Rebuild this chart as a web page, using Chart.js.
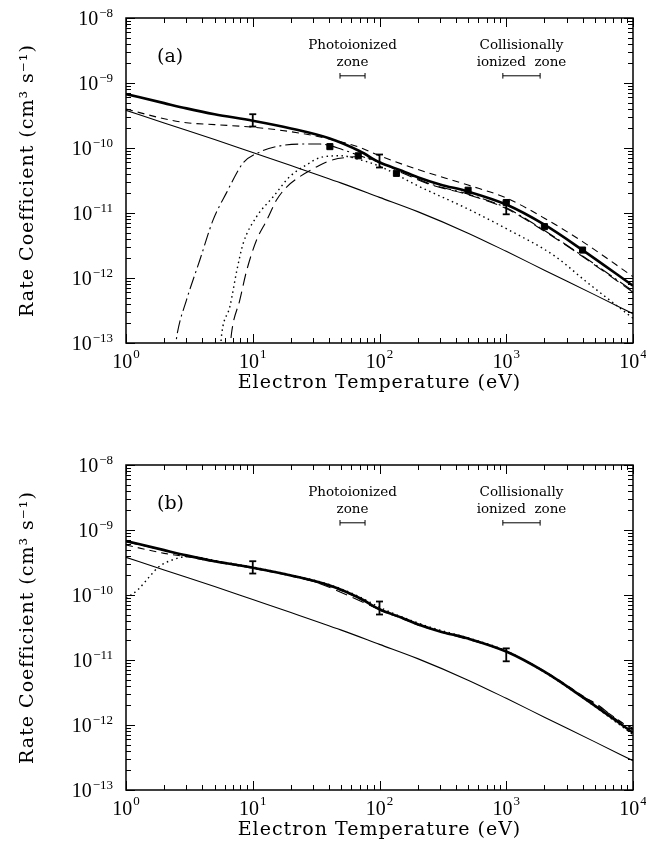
<!DOCTYPE html>
<html>
<head>
<meta charset="utf-8">
<script src="https://cdn.jsdelivr.net/npm/chart.js@4.4.1/dist/chart.umd.min.js"></script>
<style>
  html, body { margin: 0; padding: 0; background: #fff; }
  #wrap { position: relative; width: 646px; height: 845px; }
  canvas { position: absolute; left: 0; }
  #chart-a { top: 0; }
  #chart-b { top: 423px; }
</style>
</head>
<body>
<div id="wrap">
  <canvas id="chart-a" width="646" height="423"></canvas>
  <canvas id="chart-b" width="646" height="422"></canvas>
</div>
<script>
// axes
const xTickValues = [1, 10, 100, 1000, 10000];
const xTickExp = ["0", "1", "2", "3", "4"];
const yTickValues = [1e-8, 1e-9, 1e-10, 1e-11, 1e-12, 1e-13];
const yTickExp = ["\u22128", "\u22129", "\u221210", "\u221211", "\u221212", "\u221213"];

// total (thick solid), same in both panels
const totalT = [1, 2, 3, 5, 10, 20, 40, 70, 100, 150, 200, 300, 500, 1000, 2000, 4000, 10000];
const totalR = [6.76e-10, 4.90e-10, 4.07e-10, 3.31e-10, 2.63e-10, 2.00e-10, 1.41e-10, 8.91e-11, 6.03e-11, 4.47e-11, 3.55e-11, 2.75e-11, 2.14e-11, 1.35e-11, 6.61e-12, 2.69e-12, 7.59e-13];

// thin solid, same in both panels
const rrT = [1, 2, 5, 10, 20, 50, 100, 200, 500, 1000, 2000, 5000, 10000];
const rrR = [3.80e-10, 2.42e-10, 1.35e-10, 8.51e-11, 5.37e-11, 2.88e-11, 1.74e-11, 1.05e-11, 4.90e-12, 2.57e-12, 1.32e-12, 5.50e-13, 2.82e-13];

// panel (a)
const dashAT = [1, 2, 3, 5, 10, 20, 40, 70, 100, 200, 500, 1000, 2000, 4000, 10000];
const dashAR = [3.98e-10, 2.82e-10, 2.45e-10, 2.29e-10, 2.09e-10, 1.78e-10, 1.38e-10, 1.02e-10, 7.59e-11, 4.68e-11, 2.69e-11, 1.70e-11, 8.32e-12, 3.63e-12, 1.05e-12];

const dashDotAT = [2.40, 2.54, 3.0, 3.83, 4.86, 6.2, 8.4, 11.4, 16, 25, 34, 52, 70, 128, 250, 500, 1000, 2000, 4000, 10000];
const dashDotAR = [6.31e-14, 1.41e-13, 4.57e-13, 1.91e-12, 7.76e-12, 2.04e-11, 5.89e-11, 8.71e-11, 1.07e-10, 1.15e-10, 1.15e-10, 9.33e-11, 7.59e-11, 5.01e-11, 2.82e-11, 1.95e-11, 1.20e-11, 5.37e-12, 2.19e-12, 6.31e-13];

const longDashAT = [6.55, 6.8, 7.9, 8.97, 10.7, 12.9, 15.4, 18.5, 23.5, 32, 43, 58, 70, 100, 150, 250, 500, 1000, 2000, 4000, 10000];
const longDashAR = [6.31e-14, 1.41e-13, 4.57e-13, 1.32e-12, 3.80e-12, 7.76e-12, 1.58e-11, 2.51e-11, 3.63e-11, 5.13e-11, 6.61e-11, 7.24e-11, 7.41e-11, 6.03e-11, 4.17e-11, 2.75e-11, 1.91e-11, 1.17e-11, 5.25e-12, 2.14e-12, 6.03e-13];

const dotAT = [5.5, 5.7, 6.6, 7.5, 8.4, 10.7, 14.5, 19.6, 27, 35, 50, 70, 100, 200, 500, 1000, 2400, 4300, 10000];
const dotAR = [6.31e-14, 1.41e-13, 3.63e-13, 1.32e-12, 3.39e-12, 8.71e-12, 1.78e-11, 3.63e-11, 5.62e-11, 7.24e-11, 7.59e-11, 6.61e-11, 5.25e-11, 2.63e-11, 1.15e-11, 5.75e-12, 2.19e-12, 8.71e-13, 2.40e-13];

const squareT = [40.6, 68, 136, 500, 1000, 2000, 4000];
const squareR = [1.05e-10, 7.59e-11, 4.07e-11, 2.24e-11, 1.45e-11, 6.17e-12, 2.69e-12];

// panel (b)
const dashBT = [1, 2, 3, 5, 10, 20, 40, 70, 100, 150, 200, 300, 500, 1000, 2000, 4000, 6000, 10000];
const dashBR = [5.89e-10, 4.37e-10, 3.89e-10, 3.24e-10, 2.57e-10, 1.95e-10, 1.38e-10, 8.71e-11, 5.89e-11, 4.37e-11, 3.47e-11, 2.75e-11, 2.14e-11, 1.35e-11, 6.76e-12, 2.82e-12, 1.66e-12, 8.32e-13];

const longDashBT = [1, 3, 10, 30, 100, 300, 1000, 2000, 4000, 5200, 7600, 10000];
const longDashBR = [6.61e-10, 4.07e-10, 2.63e-10, 1.62e-10, 6.03e-11, 2.75e-11, 1.35e-11, 6.61e-12, 2.75e-12, 2.09e-12, 1.17e-12, 8.91e-13];

const dotBT = [1, 1.24, 1.53, 1.83, 2.33, 3, 4, 5, 10, 20, 40, 70, 100, 200, 300, 500, 1000, 2000, 4000, 10000];
const dotBR = [8.91e-11, 1.20e-10, 1.91e-10, 2.75e-10, 3.47e-10, 3.89e-10, 3.72e-10, 3.39e-10, 2.69e-10, 2.04e-10, 1.45e-10, 9.33e-11, 6.46e-11, 3.72e-11, 2.88e-11, 2.19e-11, 1.38e-11, 6.46e-12, 2.63e-12, 7.08e-13];

// error bars (both panels)
const errT = [10, 100, 1000];
const errLo = [2.14e-10, 5.01e-11, 9.55e-12];
const errHi = [3.31e-10, 7.94e-11, 1.51e-11];

// temperature zones
const photoZone = [48.8, 76.9];
const collZone = [940, 1850];
const zoneLevel = 1.29e-9;

const SERIF = "'DejaVu Serif', serif";
const NUM = "'Liberation Serif', serif";

function series(xs, ys) {
  return xs.map((x, i) => ({ x, y: ys[i] }));
}

function curve(xs, ys, width, dash) {
  return {
    data: series(xs, ys),
    borderColor: "#000",
    borderWidth: width,
    borderDash: dash || [],
    pointRadius: 0,
    cubicInterpolationMode: "monotone",
    fill: false,
  };
}

function errorBars() {
  const d = [];
  errT.forEach((t, i) => d.push({ x: t, y: errLo[i] }, { x: t, y: errHi[i] }, { x: t, y: null }));
  return {
    data: d,
    borderColor: "#000",
    borderWidth: 1.8,
    pointStyle: "line",
    pointRadius: 3.5,
    pointBorderWidth: 1.8,
    pointBorderColor: "#000",
    tension: 0,
  };
}

function zones() {
  const d = [];
  [photoZone, collZone].forEach(z => d.push({ x: z[0], y: zoneLevel }, { x: z[1], y: zoneLevel }, { x: z[1], y: null }));
  return {
    data: d,
    borderColor: "#000",
    borderWidth: 1,
    pointStyle: "line",
    pointRotation: 90,
    pointRadius: 2.8,
    pointBorderWidth: 1,
    pointBorderColor: "#000",
    tension: 0,
  };
}

// frame, ticks, labels and text
const framePlugin = {
  id: "frame",
  afterDatasetsDraw(chart, args, opts) {
    const { ctx, chartArea: a, scales: { x, y } } = chart;
    ctx.save();
    ctx.strokeStyle = "#000";
    ctx.fillStyle = "#000";

    // ticks on all four sides
    ctx.lineWidth = 1;
    ctx.beginPath();
    xTickValues.forEach((v, i) => {
      for (let m = 1; m <= 9; m++) {
        if (i === xTickValues.length - 1 && m > 1) break;
        const px = Math.round(x.getPixelForValue(v * m)) + 0.5;
        const len = m === 1 ? 9 : 5;
        ctx.moveTo(px, a.bottom); ctx.lineTo(px, a.bottom - len);
        ctx.moveTo(px, a.top); ctx.lineTo(px, a.top + len);
      }
    });
    yTickValues.slice().reverse().forEach((v, i) => {
      for (let m = 1; m <= 9; m++) {
        if (i === yTickValues.length - 1 && m > 1) break;
        const py = Math.round(y.getPixelForValue(v * m)) + 0.5;
        const len = m === 1 ? 9 : 5;
        ctx.moveTo(a.left, py); ctx.lineTo(a.left + len, py);
        ctx.moveTo(a.right, py); ctx.lineTo(a.right - len, py);
      }
    });
    ctx.stroke();

    ctx.lineWidth = 1.5;
    ctx.strokeRect(a.left, a.top, a.right - a.left, a.bottom - a.top);

    // tick labels 10^n
    const big = "20px " + NUM, small = "13px " + NUM;
    ctx.textBaseline = "alphabetic";
    ctx.textAlign = "left";
    xTickValues.forEach((v, i) => {
      const px = x.getPixelForValue(v);
      ctx.font = big; const w1 = ctx.measureText("10").width;
      ctx.font = small; const w2 = ctx.measureText(xTickExp[i]).width;
      const x0 = px - (w1 + w2 + 1) / 2;
      ctx.font = big; ctx.fillText("10", x0, a.bottom + 25);
      ctx.font = small; ctx.fillText(xTickExp[i], x0 + w1 + 1, a.bottom + 15);
    });
    yTickValues.forEach((v, i) => {
      const py = y.getPixelForValue(v);
      ctx.font = big; const w1 = ctx.measureText("10").width;
      ctx.font = small; const w2 = ctx.measureText(yTickExp[i]).width;
      const x0 = a.left - 13 - w2 - 1 - w1;
      ctx.font = big; ctx.fillText("10", x0, py + 7);
      ctx.font = small; ctx.fillText(yTickExp[i], x0 + w1 + 1, py - 1);
    });

    // axis titles
    ctx.font = "19px " + SERIF;
    ctx.letterSpacing = "1px";
    ctx.textAlign = "center";
    ctx.fillText("Electron Temperature (eV)", (a.left + a.right) / 2, a.bottom + 45);
    ctx.save();
    ctx.translate(33, (a.top + a.bottom) / 2);
    ctx.rotate(-Math.PI / 2);
    ctx.fillText("Rate Coefficient (cm\u00B3 s\u207B\u00B9)", 0, 0);
    ctx.restore();
    ctx.letterSpacing = "0px";

    // panel label
    ctx.font = "19px " + SERIF;
    ctx.textAlign = "left";
    ctx.fillText(opts.label, 157, a.top + 44);

    // zone labels
    ctx.font = "13.5px " + SERIF;
    ctx.textAlign = "center";
    const pz = (x.getPixelForValue(photoZone[0]) + x.getPixelForValue(photoZone[1])) / 2;
    const cz = (x.getPixelForValue(collZone[0]) + x.getPixelForValue(collZone[1])) / 2;
    ctx.fillText("Photoionized", pz, a.top + 31);
    ctx.fillText("zone", pz, a.top + 48);
    ctx.fillText("Collisionally", cz, a.top + 31);
    ctx.fillText("ionized  zone", cz, a.top + 48);

    ctx.restore();
  },
};

function makeChart(id, label, datasets, pad) {
  return new Chart(document.getElementById(id), {
    type: "line",
    data: { datasets },
    options: {
      responsive: false,
      animation: false,
      events: [],
      layout: { padding: pad },
      plugins: { legend: { display: false }, tooltip: { enabled: false }, frame: { label } },
      scales: {
        x: { type: "logarithmic", min: 1, max: 10000, display: false },
        y: { type: "logarithmic", min: 1e-13, max: 1e-8, display: false },
      },
    },
    plugins: [framePlugin],
  });
}

makeChart("chart-a", "(a)", [
  curve(rrT, rrR, 1.1),
  curve(dotAT, dotAR, 1.4, [1.5, 3.5]),
  curve(longDashAT, longDashAR, 1.1, [12, 6]),
  curve(dashDotAT, dashDotAR, 1.1, [13, 4, 2, 4]),
  curve(dashAT, dashAR, 1.1, [7, 5]),
  curve(totalT, totalR, 2.6),
  {
    data: series(squareT, squareR),
    showLine: false,
    pointStyle: "rect",
    pointRadius: 4.3,
    pointBackgroundColor: "#000",
    pointBorderColor: "#000",
  },
  errorBars(),
  zones(),
], { left: 126, right: 13, top: 18, bottom: 80 });

makeChart("chart-b", "(b)", [
  curve(rrT, rrR, 1.1),
  curve(dotBT, dotBR, 1.4, [1.5, 3.5]),
  curve(longDashBT, longDashBR, 1.1, [12, 6]),
  curve(dashBT, dashBR, 1.1, [7, 5]),
  curve(totalT, totalR, 2.6),
  errorBars(),
  zones(),
], { left: 126, right: 13, top: 42, bottom: 55 });
</script>
</body>
</html>
